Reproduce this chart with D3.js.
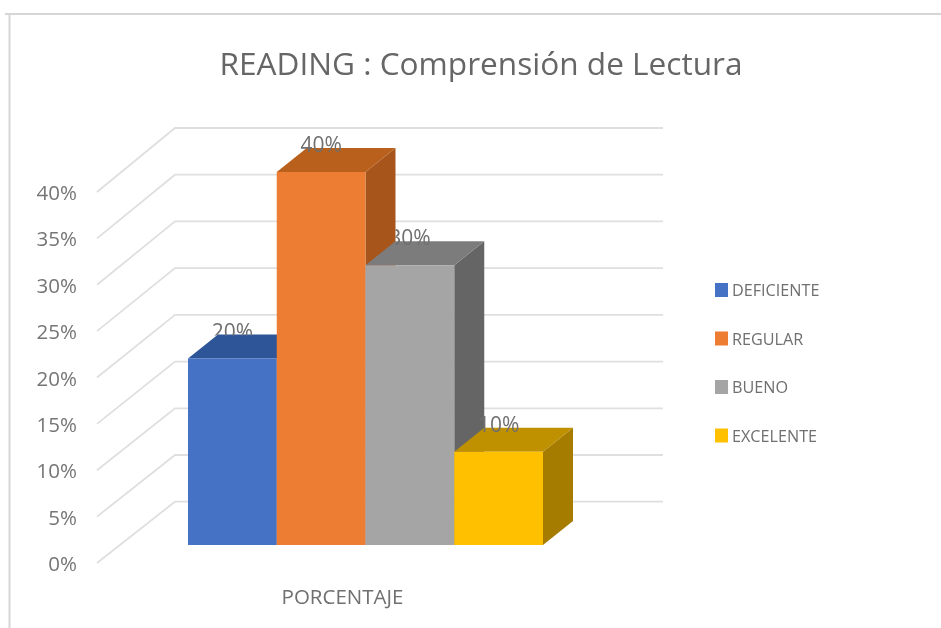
<!DOCTYPE html>
<html>
<head>
<meta charset="utf-8">
<script src="https://cdnjs.cloudflare.com/ajax/libs/d3/7.8.5/d3.min.js"></script>
<style>
	html, body { margin: 0; padding: 0; background: #fff; }
	svg { display: block; }
	text { font-family: "Open Sans", sans-serif; fill: #6f6f6f; }
</style>
</head>
<body>
<div id="chart"></div>
<script>

// data
var title = "READING : Comprensión de Lectura";
var group = "PORCENTAJE";
var categories = ["DEFICIENTE", "REGULAR", "BUENO", "EXCELENTE"];
var values = [20, 40, 30, 10];
var yTicks = [0, 5, 10, 15, 20, 25, 30, 35, 40];
var colors = ["#4472c4", "#ed7d31", "#a5a5a5", "#ffc000"];
var topColors = ["#2f5597", "#b9601f", "#7c7c7c", "#bf9000"];
var sideColors = ["#2a4c88", "#a8551c", "#656565", "#a67c00"];

var width = 941, height = 628;

var svg = d3.select("#chart").append("svg")
	.attr("width", width)
	.attr("height", height);

// the reference is a soft screenshot
var blur = svg.append("defs").append("filter")
	.attr("id", "soft");
blur.append("feGaussianBlur").attr("stdDeviation", 0.6);

/*
 *	SCALES: front edge of the floor, back wall, bars
 */
var yFront = d3.scaleLinear().domain([0, 40]).range([563, 192]);
var yBack = d3.scaleLinear().domain([0, 40]).range([501.7, 128]);
var yBar = d3.scaleLinear().domain([0, 40]).range([545, 172]);
var xBar = d3.scaleBand().domain(categories).range([188, 543]);

var frontX = 97, backX = 175, wallEnd = 663;
var depthX = 30, depthY = -24;

// frame
var frame = svg.append("g").attr("filter", "url(#soft)");
frame.append("line").attr("x1", 5).attr("x2", width).attr("y1", 14).attr("y2", 14);
frame.append("line").attr("x1", 9.5).attr("x2", 9.5).attr("y1", 14).attr("y2", height);
frame.selectAll("line").attr("stroke", "#d6d6d6").attr("stroke-width", 2);

// gridlines, floor side then back wall
var grid = svg.append("g").attr("filter", "url(#soft)");
grid.selectAll("polyline")
	.data(yTicks).enter()
	.append("polyline")
		.attr("points", function(d){
			return [[frontX, yFront(d)], [backX, yBack(d)], [wallEnd, yBack(d)]].join(" ");
		})
		.attr("fill", "none")
		.attr("stroke", "#dfdfdf")
		.attr("stroke-width", 1.8);

// tick labels
var yAxis = d3.axisLeft(yFront)
	.tickValues(yTicks)
	.tickSize(0)
	.tickPadding(0)
	.tickFormat(function(d){ return d + "%" });

var axis = svg.append("g")
	.attr("transform", "translate(77,1)")
	.attr("filter", "url(#soft)")
	.call(yAxis);
axis.select(".domain").remove();
axis.selectAll("text")
	.style("font-family", '"Open Sans", sans-serif')
	.style("font-size", "20.5px")
	.style("fill", "#767676");

// bars, left to right so each one covers the side of the previous one
var bars = svg.append("g").attr("filter", "url(#soft)").selectAll("g")
	.data(categories).enter()
	.append("g");

function pts(list){ return list.map(function(p){ return p.join(",") }).join(" ") }

bars.append("polygon")	// side
	.attr("points", function(d, i){
		var x = xBar(d) + xBar.bandwidth(), y0 = yBar(0), y1 = yBar(values[i]);
		return pts([[x, y0], [x + depthX, y0 + depthY], [x + depthX, y1 + depthY], [x, y1]]);
	})
	.attr("fill", function(d, i){ return sideColors[i] });

bars.append("polygon")	// top
	.attr("points", function(d, i){
		var x = xBar(d), w = xBar.bandwidth(), y1 = yBar(values[i]);
		return pts([[x, y1], [x + depthX, y1 + depthY], [x + w + depthX, y1 + depthY], [x + w, y1]]);
	})
	.attr("fill", function(d, i){ return topColors[i] });

bars.append("rect")	// front
	.attr("x", function(d){ return xBar(d) })
	.attr("y", function(d, i){ return yBar(values[i]) })
	.attr("width", xBar.bandwidth())
	.attr("height", function(d, i){ return yBar(0) - yBar(values[i]) })
	.attr("fill", function(d, i){ return colors[i] });

// value labels sit partly behind the bars, so clip them
var clips = svg.select("defs").selectAll("clipPath")
	.data(categories).enter()
	.append("clipPath")
		.attr("id", function(d, i){ return "lab" + i });
clips.append("rect")
	.attr("x", function(d, i){ return i == 2 ? xBar(d) + depthX : 0 })	// BUENO is behind the side of REGULAR
	.attr("y", 0)
	.attr("width", width)
	.attr("height", function(d, i){ return yBar(values[i]) + depthY + (i == 0 ? 1 : 8) });

svg.append("g").selectAll("g")
	.data(categories).enter()
	.append("g")
		.attr("clip-path", function(d, i){ return "url(#lab" + i + ")" })
	.append("text")
		.text(function(d, i){ return values[i] + "%" })
		.attr("x", function(d){ return xBar(d) + xBar.bandwidth() / 2 })
		.attr("y", function(d, i){ return yBar(values[i]) + depthY + 4 })
		.attr("text-anchor", "middle")
		.attr("filter", "url(#soft)")
		.style("font-size", "21px");

// category label under the bars
svg.append("text")
	.text(group)
	.attr("x", 342.5)
	.attr("y", 604)
	.attr("text-anchor", "middle")
	.attr("filter", "url(#soft)")
	.style("font-size", "20.5px");

// title
svg.append("text")
	.text(title)
	.attr("x", 481)
	.attr("y", 75)
	.attr("text-anchor", "middle")
	.attr("filter", "url(#soft)")
	.style("fill", "#666")
	.style("font-size", "31.6px");

// legend
var yLegend = d3.scalePoint().domain(categories).range([290, 435.5]);

var legend = svg.append("g").selectAll("g")
	.data(categories).enter()
	.append("g")
		.attr("transform", function(d){ return "translate(715," + yLegend(d) + ")" })
		.attr("filter", "url(#soft)");

legend.append("rect")
	.attr("y", -7)
	.attr("width", 13)
	.attr("height", 14)
	.attr("fill", function(d, i){ return colors[i] });

legend.append("text")
	.text(function(d){ return d })
	.attr("x", 17)
	.attr("y", 6)
	.style("font-size", "16.2px");

</script>
</body>
</html>
